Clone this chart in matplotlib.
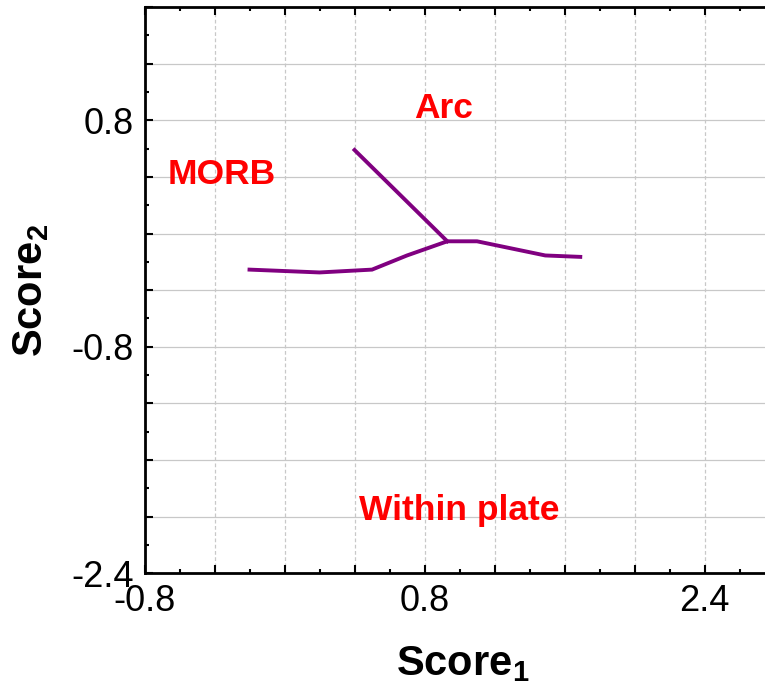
import matplotlib
matplotlib.use("Agg")
import matplotlib.pyplot as plt
from matplotlib.ticker import MultipleLocator, FuncFormatter

plt.rcParams['font.family'] = ['Liberation Sans', 'DejaVu Sans']
plt.rcParams['mathtext.fontset'] = 'custom'
plt.rcParams['mathtext.rm'] = 'Liberation Sans'
plt.rcParams['mathtext.bf'] = 'Liberation Sans:bold'

# Boundary lines (Score1, Score2)
lower_x = [-0.20, 0.20, 0.50, 0.70, 0.93, 1.10, 1.49, 1.69]
lower_y = [-0.255, -0.275, -0.255, -0.155, -0.055, -0.055, -0.155, -0.165]
upper_x = [0.40, 0.93]
upper_y = [0.59, -0.055]

# Field labels
field_names = ["MORB", "Arc", "Within plate"]
field_x = [-0.36, 0.91, 1.00]
field_y = [0.42, 0.88, -1.96]

x_tick_values = [-0.8, 0.8, 2.4]
x_tick_labels = ["-0.8", "0.8", "2.4"]
y_tick_values = [0.8, -0.8, -2.4]
y_tick_labels = ["0.8", "-0.8", "-2.4"]

fig = plt.figure(figsize=(7.65, 6.86), dpi=100)
ax = fig.add_axes([0.1889, 0.1643, 1.02 - 0.1889, 0.9898 - 0.1643])

ax.plot(lower_x, lower_y, color='purple', lw=2.8, solid_joinstyle='miter')
ax.plot(upper_x, upper_y, color='purple', lw=2.8)

for name, x, y in zip(field_names, field_x, field_y):
    ax.text(x, y, name, color='red', fontsize=25.5, fontweight='bold',
            ha='center', va='center')

ax.set_xlim(-0.8, 2.833)
ax.set_ylim(-2.4, 1.6)

def make_fmt(vals, labels):
    def f(v, pos):
        for tv, tl in zip(vals, labels):
            if abs(v - tv) < 1e-6:
                return tl
        return ""
    return f

ax.xaxis.set_major_locator(MultipleLocator(0.4))
ax.xaxis.set_minor_locator(MultipleLocator(0.2))
ax.yaxis.set_major_locator(MultipleLocator(0.4))
ax.yaxis.set_minor_locator(MultipleLocator(0.2))
ax.xaxis.set_major_formatter(FuncFormatter(make_fmt(x_tick_values, x_tick_labels)))
ax.yaxis.set_major_formatter(FuncFormatter(make_fmt(y_tick_values, y_tick_labels)))

ax.tick_params(which='both', direction='in', top=True, right=False, width=1.5,
               labelsize=26)
ax.tick_params(which='major', length=6)
ax.tick_params(which='minor', length=3)
ax.tick_params(axis='x', which='major', pad=8)
ax.tick_params(axis='y', which='major', pad=8)

ax.grid(axis='x', which='major', color='#c8c8c8', linestyle=(0, (3, 2)), lw=0.9)
ax.grid(axis='y', which='major', color='#c8c8c8', linestyle='-', lw=0.9)
ax.set_axisbelow(True)

for s in ['left', 'bottom', 'top']:
    ax.spines[s].set_linewidth(2)
ax.spines['right'].set_visible(False)

ax.set_xlabel(r"$\mathbf{Score}_\mathbf{1}$", fontsize=30, labelpad=18)
ax.set_ylabel(r"$\mathbf{Score}_\mathbf{2}$", fontsize=30, labelpad=14)

fig.savefig("out.png", dpi=100)
